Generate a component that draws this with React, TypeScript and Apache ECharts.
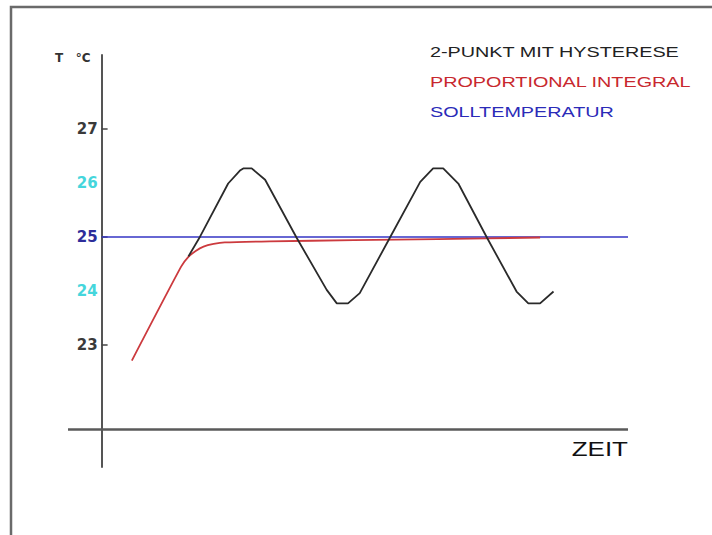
import React, { useEffect, useRef } from "react";
import * as echarts from "echarts";

// Time axis (arbitrary units), temperature in °C
const blackTime = [15.5, 17.6, 22.6, 24.7, 25.3, 26.8, 29.2, 34.8, 40.2, 42.0, 44.0, 46.1, 51.5, 56.9, 59.2, 61.0, 63.7, 68.8, 74.1, 76.2, 78.3, 80.7];
const blackTemp = [24.64, 25.01, 25.99, 26.23, 26.27, 26.27, 26.06, 24.99, 24.02, 23.77, 23.77, 23.96, 24.99, 26.02, 26.27, 26.27, 25.99, 24.99, 23.99, 23.77, 23.77, 23.99];

const redTime = [5.4, 14.2, 15.5, 16.8, 18.2, 20.0, 22.0, 30.0, 45.0, 60.0, 78.3];
const redTemp = [22.71, 24.45, 24.63, 24.74, 24.82, 24.87, 24.9, 24.92, 24.94, 24.96, 24.99];

const setTime = [0, 94];
const setTemp = [25, 25];

const labelValues = [23, 24, 25, 26, 27];
const tickValues = [23, 25, 27];
const timeAxisTemp = 21.426;

const legendTexts = ["2-PUNKT MIT HYSTERESE", "PROPORTIONAL INTEGRAL", "SOLLTEMPERATUR"];
const legendColors = ["#222222", "#c8282e", "#2b2bb8"];

const zip = (a: number[], b: number[]) => a.map((x, i) => [x, b[i]]);

export default function App() {
  const ref = useRef<HTMLDivElement>(null);
  useEffect(() => {
    if (!ref.current) return;
    const chart = echarts.init(ref.current, undefined, { renderer: "svg" });
    const legendGraphics = legendTexts.map((t, i) => ({
      type: "text",
      x: 430,
      y: 52 + i * 30,
      scaleX: 1.32,
      style: {
        text: t,
        x: 0,
        y: 0,
        fill: legendColors[i],
        font: "15px 'Liberation Sans', Arial, sans-serif",
        textVerticalAlign: "middle",
        textAlign: "left",
      },
    }));
    chart.setOption({
      animation: false,
      backgroundColor: "#ffffff",
      grid: { left: 68, right: 84, top: 55, bottom: 68, containLabel: false },
      xAxis: {
        type: "value",
        min: -6,
        max: 94,
        axisLine: { show: false },
        axisTick: { show: false },
        axisLabel: { show: false },
        splitLine: { show: false },
      },
      yAxis: {
        type: "value",
        min: 20.74,
        max: 28.37,
        offset: -33.6,
        splitLine: { show: false },
        axisLine: { show: true, onZero: false, lineStyle: { color: "#555555", width: 2 } },
        axisTick: {
          show: true,
          inside: true,
          length: 6,
          customValues: tickValues,
          lineStyle: { color: "#444444", width: 1.5 },
        },
        axisLabel: {
          customValues: labelValues,
          margin: 4,
          fontSize: 15,
          fontWeight: "bold",
          fontFamily: "'DejaVu Sans', Verdana, sans-serif",
          color: (v: any) => {
            const n = Number(v);
            if (n === 24 || n === 26) return "#45d6dc";
            if (n === 25) return "#2d2d9a";
            return "#3a3a3a";
          },
        },
      },
      graphic: [
        {
          type: "rect",
          shape: { x: 11, y: 7, width: 900, height: 800 },
          style: { fill: "none", stroke: "#6a6a6a", lineWidth: 2.5 },
          silent: true,
        },
        {
          type: "text",
          x: 55,
          y: 58,
          style: {
            text: "T   °C",
            fill: "#333333",
            font: "bold 12px 'DejaVu Sans', Verdana, sans-serif",
            textVerticalAlign: "middle",
          },
        },
        ...legendGraphics,
        {
          type: "text",
          x: 628,
          y: 449,
          scaleX: 1.3,
          style: {
            text: "ZEIT",
            x: 0,
            y: 0,
            fill: "#111111",
            font: "20px 'Liberation Sans', Arial, sans-serif",
            textAlign: "right",
            textVerticalAlign: "middle",
          },
        },
      ],
      series: [
        {
          name: "SOLLTEMPERATUR",
          type: "line",
          data: zip(setTime, setTemp),
          showSymbol: false,
          lineStyle: { color: "#3434c4", width: 1.5 },
          markLine: {
            silent: true,
            symbol: ["none", "none"],
            label: { show: false },
            lineStyle: { color: "#5a5a5a", width: 2.5, type: "solid" },
            data: [{ yAxis: timeAxisTemp }],
          },
        },
        {
          name: "PROPORTIONAL INTEGRAL",
          type: "line",
          data: zip(redTime, redTemp),
          showSymbol: false,
          smooth: 0.2,
          lineStyle: { color: "#cc3a3e", width: 1.8 },
        },
        {
          name: "2-PUNKT MIT HYSTERESE",
          type: "line",
          data: zip(blackTime, blackTemp),
          showSymbol: false,
          lineStyle: { color: "#2a2a2a", width: 1.8 },
        },
      ],
    });
    return () => chart.dispose();
  }, []);
  return (
    <div
      ref={ref}
      style={{ position: "absolute", left: 0, top: 0, width: 712, height: 535 }}
    />
  );
}
